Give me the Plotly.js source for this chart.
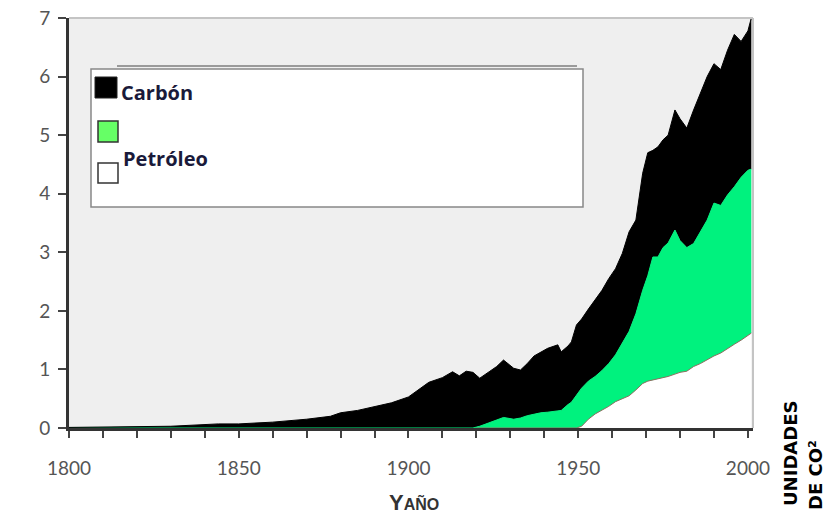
<!DOCTYPE html>
<html>
<head>
<meta charset="utf-8">
<script src="https://cdn.plot.ly/plotly-3.0.1.min.js"></script>
<style>html,body{margin:0;padding:0;background:#fff;}#chart{width:829px;height:515px;}</style>
</head>
<body>
<div id="chart"></div>
<script>
// ---- Data ----
const years = [1800,1816,1830,1844,1850,1860,1870,1877,1880,1885,1890,1895,1900,1903,1906,1910,1913,1915,1917,1919,1921,1924,1926,1928,1931,1933,1935,1937,1939,1941,1944,1945,1947,1948,1949.5,1951,1953,1955,1957,1959,1961,1963,1965,1967,1969,1970.5,1972,1973.5,1975,1976.5,1978.5,1980,1982,1984,1986,1988,1990,1992,1994,1996,1998,2000,2001];
// top of the black band (total)
const totalTop = [0.01,0.02,0.03,0.07,0.07,0.10,0.15,0.20,0.26,0.30,0.36,0.43,0.53,0.65,0.78,0.86,0.96,0.89,0.97,0.95,0.85,0.97,1.05,1.16,1.02,0.99,1.10,1.23,1.30,1.36,1.42,1.30,1.40,1.47,1.76,1.86,2.03,2.20,2.35,2.55,2.72,2.98,3.35,3.55,4.35,4.70,4.74,4.80,4.92,5.00,5.43,5.28,5.12,5.43,5.72,6.00,6.22,6.12,6.45,6.72,6.60,6.78,7.00];
// top of the green band
const greenTop = [0,0,0,0,0,0,0,0,0,0,0,0,0,0,0,0,0,0,0,0,0.03,0.09,0.13,0.18,0.15,0.17,0.21,0.24,0.26,0.27,0.30,0.30,0.40,0.44,0.56,0.68,0.80,0.88,0.98,1.10,1.25,1.45,1.65,1.95,2.35,2.60,2.92,2.92,3.08,3.16,3.38,3.20,3.08,3.15,3.35,3.55,3.84,3.80,3.98,4.12,4.28,4.40,4.42];
// top of the white band
const whiteTop = [0,0,0,0,0,0,0,0,0,0,0,0,0,0,0,0,0,0,0,0,0,0,0,0,0,0,0,0,0,0,0,0,0,0,0,0.03,0.15,0.24,0.30,0.37,0.45,0.50,0.55,0.65,0.76,0.80,0.82,0.84,0.86,0.88,0.92,0.95,0.97,1.05,1.10,1.17,1.23,1.28,1.36,1.43,1.50,1.58,1.62];
const legendLabels = ["Carbón", "Petróleo"];
const xTickVals = [1800,1850,1900,1950,2000];
const yTickVals = [0,1,2,3,4,5,6,7];

// ---- Layout helpers (pixel -> paper) ----
const W = 829, H = 515;
const L = 69, R = 753, T = 18, B = 428;
const px = v => (v - L) / (R - L);
const py = v => (B - v) / (B - T);

const traces = [
  {x: years, y: whiteTop, type: 'scatter', mode: 'lines', fill: 'tozeroy',
   fillcolor: '#ffffff', line: {color: '#8c7060', width: 1}, hoverinfo: 'skip'},
  {x: years, y: greenTop, type: 'scatter', mode: 'lines', fill: 'tonexty',
   fillcolor: '#00f27e', line: {color: '#00f27e', width: 1}, hoverinfo: 'skip'},
  {x: years, y: totalTop, type: 'scatter', mode: 'lines', fill: 'tonexty',
   fillcolor: '#000000', line: {color: '#000000', width: 1}, hoverinfo: 'skip'}
];

const font = "Lato, 'Open Sans', sans-serif";
const legFont = {family: "'Open Sans', Lato, sans-serif", size: 20, color: '#1a1a3a', weight: 'bold'};

const layout = {
  width: W, height: H,
  margin: {l: L, r: W - R, t: T, b: H - B},
  paper_bgcolor: '#ffffff',
  plot_bgcolor: '#efefef',
  showlegend: false,
  xaxis: {
    range: [1800, 2001.5], tickvals: xTickVals, ticktext: xTickVals.map(String),
    showline: true, linecolor: '#333', linewidth: 3,
    ticks: 'outside', ticklen: 7, tickwidth: 2, tickcolor: '#444',
    minor: {dtick: 10, tick0: 1800, ticks: 'outside', ticklen: 7, tickwidth: 2, tickcolor: '#444', showgrid: false},
    showgrid: false, zeroline: false,
    tickfont: {family: font, size: 19, color: '#555'},
    ticklabelstandoff: 14
  },
  yaxis: {
    range: [0, 7], tickvals: yTickVals,
    showline: true, linecolor: '#333', linewidth: 3,
    ticks: 'outside', ticklen: 8, tickwidth: 2, tickcolor: '#444',
    showgrid: false, zeroline: false,
    tickfont: {family: font, size: 19, color: '#555'},
    ticklabelstandoff: 4
  },
  shapes: [
    // plot frame (top and right)
    {type: 'line', xref: 'paper', yref: 'paper', x0: 0, x1: 1, y0: 1, y1: 1, line: {color: '#c4c4c4', width: 2}},
    {type: 'line', xref: 'paper', yref: 'paper', x0: 1, x1: 1, y0: 0, y1: 1, line: {color: '#c4c4c4', width: 2}},
    // legend box
    {type: 'line', xref: 'paper', yref: 'paper', x0: px(117), x1: px(577), y0: py(66), y1: py(66), line: {color: '#9a9a9a', width: 2}},
    {type: 'rect', xref: 'paper', yref: 'paper', x0: px(91), x1: px(583), y0: py(207), y1: py(69), fillcolor: '#ffffff', line: {color: '#888', width: 1.5}},
    {type: 'rect', xref: 'paper', yref: 'paper', x0: px(95), x1: px(117), y0: py(98), y1: py(77), fillcolor: '#000000', line: {color: '#222', width: 1}},
    {type: 'rect', xref: 'paper', yref: 'paper', x0: px(98), x1: px(118), y0: py(142), y1: py(121), fillcolor: '#66ff66', line: {color: '#333', width: 1.5}},
    {type: 'rect', xref: 'paper', yref: 'paper', x0: px(98), x1: px(118), y0: py(183), y1: py(163), fillcolor: '#ffffff', line: {color: '#333', width: 1.5}}
  ],
  annotations: [
    {xref: 'paper', yref: 'paper', x: px(119), y: py(92), xanchor: 'left', yanchor: 'middle', showarrow: false,
     text: legendLabels[0], font: legFont},
    {xref: 'paper', yref: 'paper', x: px(121), y: py(158), xanchor: 'left', yanchor: 'middle', showarrow: false,
     text: legendLabels[1], font: legFont},
    {xref: 'paper', yref: 'paper', x: px(414), y: py(502), xanchor: 'center', yanchor: 'middle', showarrow: false,
     text: 'Y<span style="font-size:16px">AÑO</span>', font: {family: "'Liberation Sans', Arial, sans-serif", size: 22, color: '#333', weight: 'bold'}},
    {xref: 'paper', yref: 'paper', x: px(790), y: py(454), xanchor: 'center', yanchor: 'middle', showarrow: false, textangle: -90,
     text: 'UNIDADES', font: {family: "'DejaVu Sans', sans-serif", size: 18, color: '#000', weight: 'bold'}},
    {xref: 'paper', yref: 'paper', x: px(815), y: py(475), xanchor: 'center', yanchor: 'middle', showarrow: false, textangle: -90,
     text: 'DE CO²', font: {family: "'DejaVu Sans', sans-serif", size: 18, color: '#000', weight: 'bold'}}
  ]
};

Plotly.newPlot('chart', traces, layout, {staticPlot: true, displayModeBar: false});
</script>
</body>
</html>
